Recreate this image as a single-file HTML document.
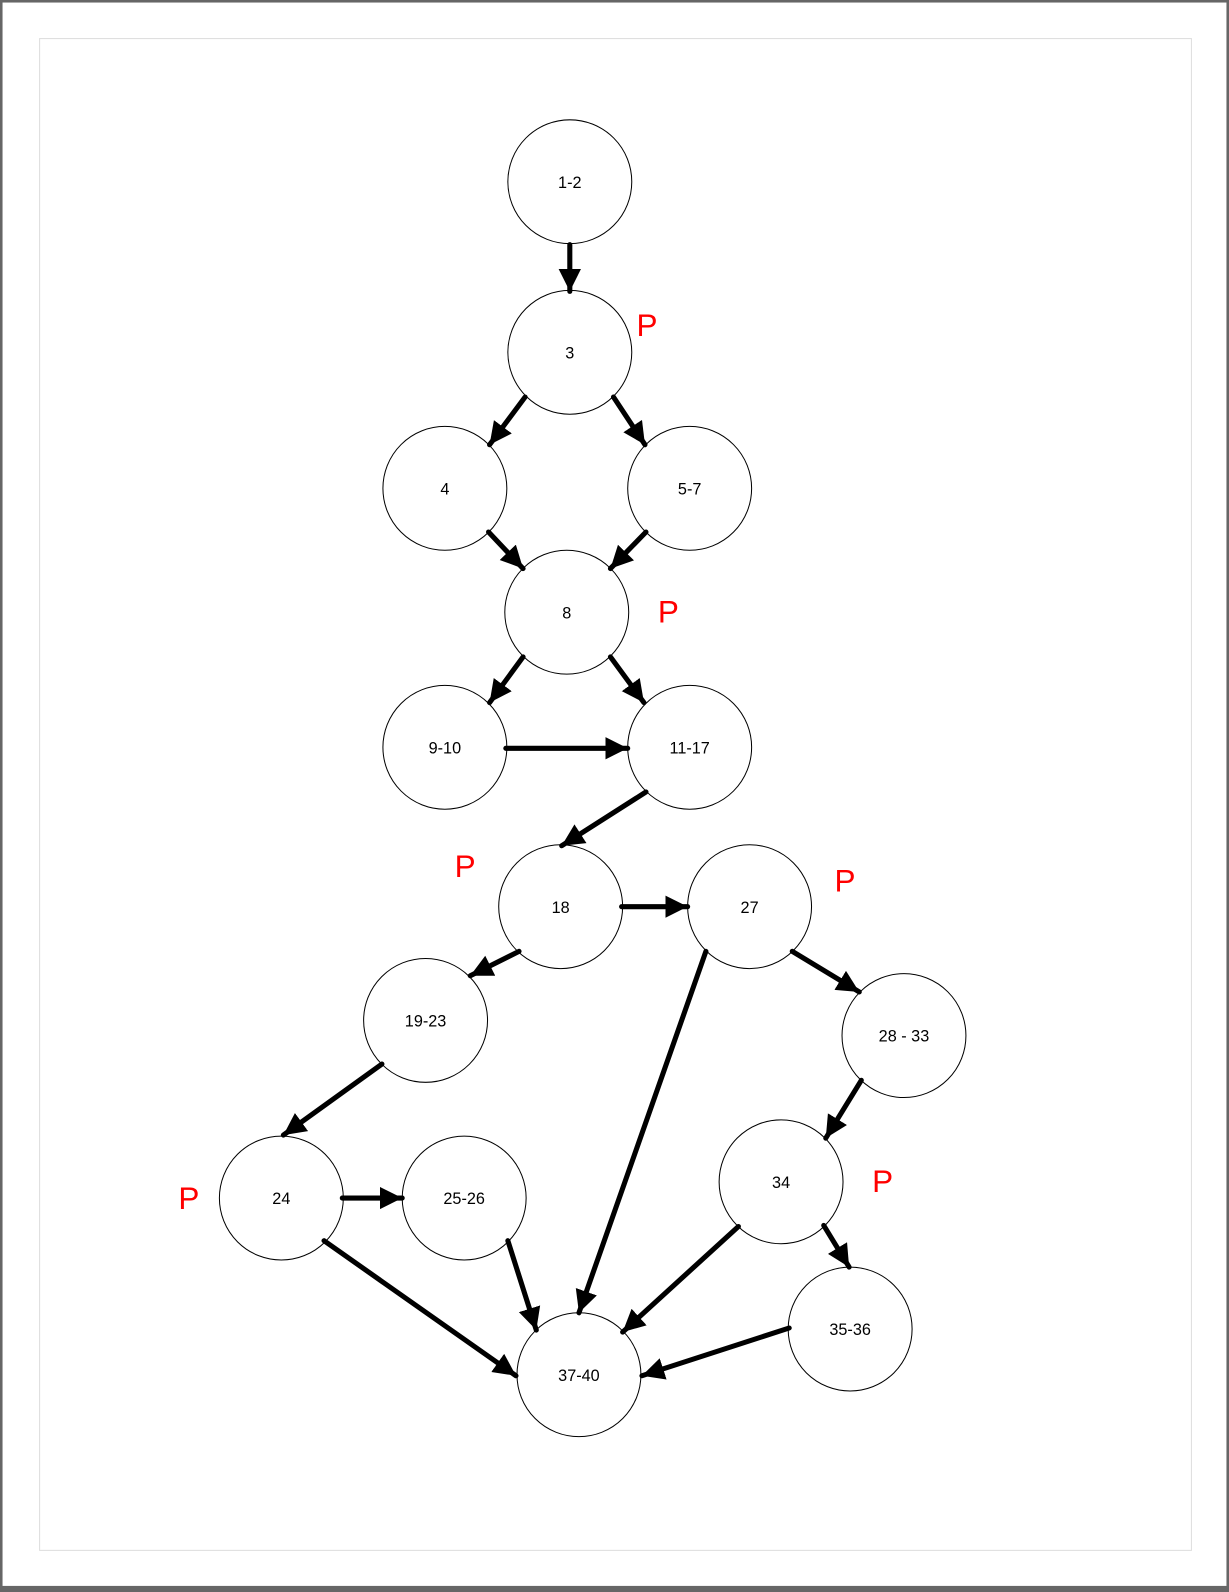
<!DOCTYPE html>
<html><head><meta charset="utf-8"><style>
html,body{margin:0;padding:0;background:#fff}
svg{display:block}
text{font-family:"Liberation Sans","DejaVu Sans",sans-serif}
</style></head><body>
<svg width="1229" height="1592" viewBox="0 0 1210 1568" preserveAspectRatio="none" xmlns="http://www.w3.org/2000/svg">
<defs>
<marker id="a" markerUnits="userSpaceOnUse" markerWidth="24" markerHeight="24" refX="22" refY="11" orient="auto">
<path d="M0,0 L22,11 L0,22 Z" fill="#000"/>
</marker>
</defs>
<rect x="0" y="0" width="1210" height="1568" fill="#fff"/>
<rect x="1" y="1" width="1208" height="1566" fill="none" stroke="#666" stroke-width="3"/>
<rect x="0" y="1562" width="1210" height="6" fill="#666"/>
<rect x="39" y="38" width="1134" height="1489" fill="none" stroke="#ddd" stroke-width="1"/>
<g fill="#fff" stroke="#000" stroke-width="1">
<circle cx="561" cy="179" r="61"/>
<circle cx="561" cy="347" r="61"/>
<circle cx="438" cy="481" r="61"/>
<circle cx="679" cy="481" r="61"/>
<circle cx="558" cy="603" r="61"/>
<circle cx="438" cy="736" r="61"/>
<circle cx="679" cy="736" r="61"/>
<circle cx="552" cy="893" r="61"/>
<circle cx="738" cy="893" r="61"/>
<circle cx="419" cy="1005" r="61"/>
<circle cx="890" cy="1020" r="61"/>
<circle cx="277" cy="1180" r="61"/>
<circle cx="457" cy="1180" r="61"/>
<circle cx="769" cy="1164" r="61"/>
<circle cx="837" cy="1309" r="61"/>
<circle cx="570" cy="1354" r="61"/>
</g>
<g stroke="#000" stroke-width="5" stroke-linecap="round" marker-end="url(#a)">
<line x1="561" y1="241" x2="561" y2="287"/>
<line x1="517" y1="391" x2="482" y2="438"/>
<line x1="604" y1="391" x2="635" y2="438"/>
<line x1="481" y1="524" x2="515" y2="560"/>
<line x1="636" y1="524" x2="601" y2="560"/>
<line x1="515" y1="647" x2="482" y2="692"/>
<line x1="601" y1="647" x2="634" y2="692"/>
<line x1="498" y1="737" x2="618" y2="737"/>
<line x1="636" y1="780" x2="553" y2="833"/>
<line x1="612" y1="893" x2="677" y2="893"/>
<line x1="511" y1="937" x2="463" y2="961"/>
<line x1="780" y1="937" x2="846" y2="977"/>
<line x1="695" y1="937" x2="570" y2="1293"/>
<line x1="376" y1="1048" x2="279" y2="1118"/>
<line x1="337" y1="1180" x2="396" y2="1180"/>
<line x1="319" y1="1222" x2="508" y2="1355"/>
<line x1="500" y1="1222" x2="528" y2="1310"/>
<line x1="848" y1="1064" x2="813" y2="1121"/>
<line x1="727" y1="1208" x2="613" y2="1312"/>
<line x1="811" y1="1207" x2="836" y2="1248"/>
<line x1="777" y1="1308" x2="632" y2="1355"/>
</g>
<g font-size="16" text-anchor="middle" fill="#000">
<text x="561" y="185">1-2</text>
<text x="561" y="353">3</text>
<text x="438" y="487">4</text>
<text x="679" y="487">5-7</text>
<text x="558" y="609">8</text>
<text x="438" y="742">9-10</text>
<text x="679" y="742">11-17</text>
<text x="552" y="899">18</text>
<text x="738" y="899">27</text>
<text x="419" y="1011">19-23</text>
<text x="890" y="1026">28 - 33</text>
<text x="277" y="1186">24</text>
<text x="457" y="1186">25-26</text>
<text x="769" y="1170">34</text>
<text x="837" y="1315">35-36</text>
<text x="570" y="1360">37-40</text>
</g>
<g font-size="31" text-anchor="middle" fill="#f00">
<text x="637" y="331">P</text>
<text x="658" y="613">P</text>
<text x="458" y="864">P</text>
<text x="832" y="878">P</text>
<text x="186" y="1191">P</text>
<text x="869" y="1174">P</text>
</g>
</svg>
</body></html>
